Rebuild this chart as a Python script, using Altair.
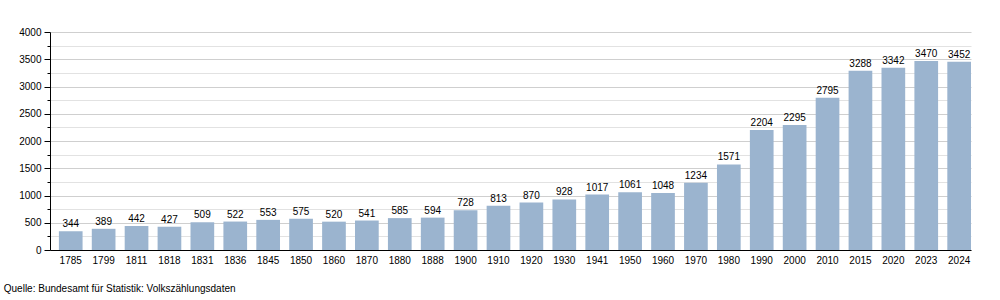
import altair as alt
import pandas as pd

years = ["1785","1799","1811","1818","1831","1836","1845","1850","1860","1870","1880","1888",
         "1900","1910","1920","1930","1941","1950","1960","1970","1980","1990","2000","2010",
         "2015","2020","2023","2024"]
values = [344,389,442,427,509,522,553,575,520,541,585,594,728,813,870,928,1017,1061,1048,
          1234,1571,2204,2295,2795,3288,3342,3470,3452]

df = pd.DataFrame({"Jahr": years, "Einwohner": values})

FONT = "Liberation Sans"

x = alt.X("Jahr:N", sort=years, title=None,
          scale=alt.Scale(paddingInner=0.28, paddingOuter=0.135, align=1),
          axis=alt.Axis(labelAngle=0, ticks=False, domainColor="black", labelColor="black",
                        labelFontSize=10, labelFont=FONT, labelPadding=5))
y = alt.Y("Einwohner:Q", title=None,
          scale=alt.Scale(domain=[0, 4000], nice=False),
          axis=alt.Axis(values=list(range(0, 4001, 250)), format="d",
                        labelExpr="datum.value % 500 == 0 ? datum.label : ''",
                        labelOverlap=False,
                        gridColor=alt.condition("datum.value % 500 == 0", alt.value("#cfcfcf"), alt.value("#e2e2e2")),
                        tickSize=alt.condition("datum.value % 500 == 0", alt.value(6), alt.value(3)),
                        tickColor="black", domainColor="black",
                        labelColor="black", labelFontSize=10, labelFont=FONT, labelPadding=3))

base = alt.Chart(df).encode(x=x, y=y)
bars = base.mark_bar(color="#9bb4cf")
labels = base.mark_text(dy=-7, fontSize=10, font=FONT, color="black").encode(text="Einwohner:Q")

chart = (bars + labels).properties(
    width=921, height=218,
    autosize="none",
    padding={"left": 50, "top": 32, "right": 29, "bottom": 50},
    title=alt.TitleParams("Quelle: Bundesamt für Statistik: Volkszählungsdaten",
                          orient="bottom", anchor="start", fontSize=10, font=FONT,
                          fontWeight="normal", color="black", dx=-15, offset=19)
).configure_view(stroke=None)

chart.save("out.html", embed_options={"renderer": "svg", "actions": False})
